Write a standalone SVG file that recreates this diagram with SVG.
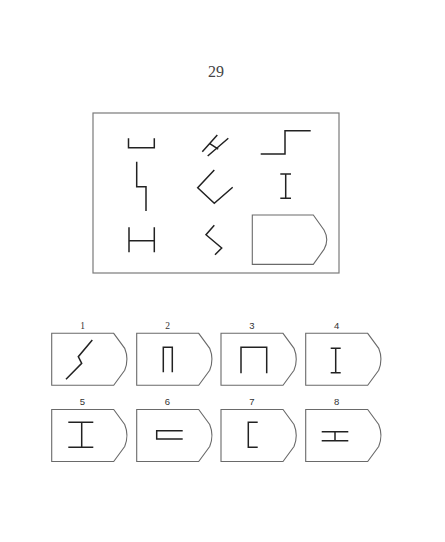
<svg xmlns="http://www.w3.org/2000/svg" width="445" height="542" viewBox="0 0 445 542">
<style>
.fig{fill:none;stroke:#222;stroke-width:1.5;stroke-linejoin:miter;stroke-linecap:butt}
.frame{fill:none;stroke:#7a7a7a;stroke-width:1.2}
.box{fill:none;stroke:#6a6a6a;stroke-width:1.1}
.num{font-size:9.5px;fill:#333;text-anchor:middle}
.serif{font-family:"Liberation Serif","Times New Roman",serif}
.sans{font-family:"Liberation Sans",Arial,sans-serif}
</style>
<defs>
<path id="optbox" d="M0,0 H62 L73,15 Q77.5,26 73,37 L62,52 H0 Z"/>
</defs>
<rect width="445" height="542" fill="#fff"/>
<text id="title" x="216" y="77" font-family="'Liberation Serif','Times New Roman',serif" font-size="16" fill="#444" text-anchor="middle">29</text>

<g id="matrix">
<rect class="frame" x="93" y="113" width="246" height="160"/>
<g id="m1"><path class="fig" d="M128.5,138.3 V147.7 H154.3 V138.3"/></g>
<g id="m2"><path class="fig" d="M202.3,151.7 L217.3,135 M207.7,156 L228.3,138.3 M209.8,143.6 L218.2,149.2"/></g>
<g id="m3"><path class="fig" d="M260.7,154 H285 V130.7 H310.7"/></g>
<g id="m4"><path class="fig" d="M136.7,161.7 V186.7 H146 V211"/></g>
<g id="m5"><path class="fig" d="M214.3,170 L197.7,187.7 L214.3,203.3 L232.7,187.3"/></g>
<g id="m6"><path class="fig" d="M285.7,174 V198.3 M280.3,174 H291 M280.3,198.3 H291"/></g>
<g id="m7"><path class="fig" d="M129,227.3 V252.3 M154.3,227.3 V252.3 M129,240.7 H154.3"/></g>
<g id="m8"><path class="fig" d="M214.3,225.3 L206,234.7 L221.7,248 L215,254.7"/></g>
<g id="m9"><path class="box" d="M252.3,215 H313.3 L324,230 Q329.5,239.7 324,249.4 L313.3,264.4 H252.3 Z"/></g>
</g>

<g id="options">
<g id="opt1">
<text class="num serif" x="82.5" y="328.5">1</text>
<use href="#optbox" class="box" transform="translate(51.7,333.3)"/>
<path class="fig" d="M92.3,340 L78.3,356.7 L81.7,363.3 L66,379.3"/>
</g>
<g id="opt2">
<text class="num serif" x="167.5" y="328.5">2</text>
<use href="#optbox" class="box" transform="translate(136.7,333.3)"/>
<path class="fig" d="M163.3,372.3 V347.3 H172.3 V372.3"/>
</g>
<g id="opt3">
<text class="num sans" x="252" y="328.5">3</text>
<use href="#optbox" class="box" transform="translate(221,333.3)"/>
<path class="fig" d="M241,373.3 V347.3 H266.7 V373.3"/>
</g>
<g id="opt4">
<text class="num sans" x="336.7" y="328.5">4</text>
<use href="#optbox" class="box" transform="translate(305.7,333.3)"/>
<path class="fig" d="M335.7,348.3 V372.7 M330.7,348.3 H340.7 M330.7,372.7 H340.7"/>
</g>
<g id="opt5">
<text class="num sans" x="82.5" y="405">5</text>
<use href="#optbox" class="box" transform="translate(51.7,409.5)"/>
<path class="fig" d="M81.7,422.3 V447.3 M68.3,422.3 H93.3 M68.3,447.3 H93.3"/>
</g>
<g id="opt6">
<text class="num sans" x="167.5" y="405">6</text>
<use href="#optbox" class="box" transform="translate(136.7,409.5)"/>
<path class="fig" d="M182.7,430.7 H156.7 V439 H182.7"/>
</g>
<g id="opt7">
<text class="num sans" x="252" y="405">7</text>
<use href="#optbox" class="box" transform="translate(221,409.5)"/>
<path class="fig" d="M257.7,422.3 H248.3 V447.3 H257.7"/>
</g>
<g id="opt8">
<text class="num sans" x="336.7" y="405">8</text>
<use href="#optbox" class="box" transform="translate(305.7,409.5)"/>
<path class="fig" d="M321.7,431.7 H348.3 M321.7,440.7 H348.3 M335,431.7 V440.7"/>
</g>
</g>
</svg>
